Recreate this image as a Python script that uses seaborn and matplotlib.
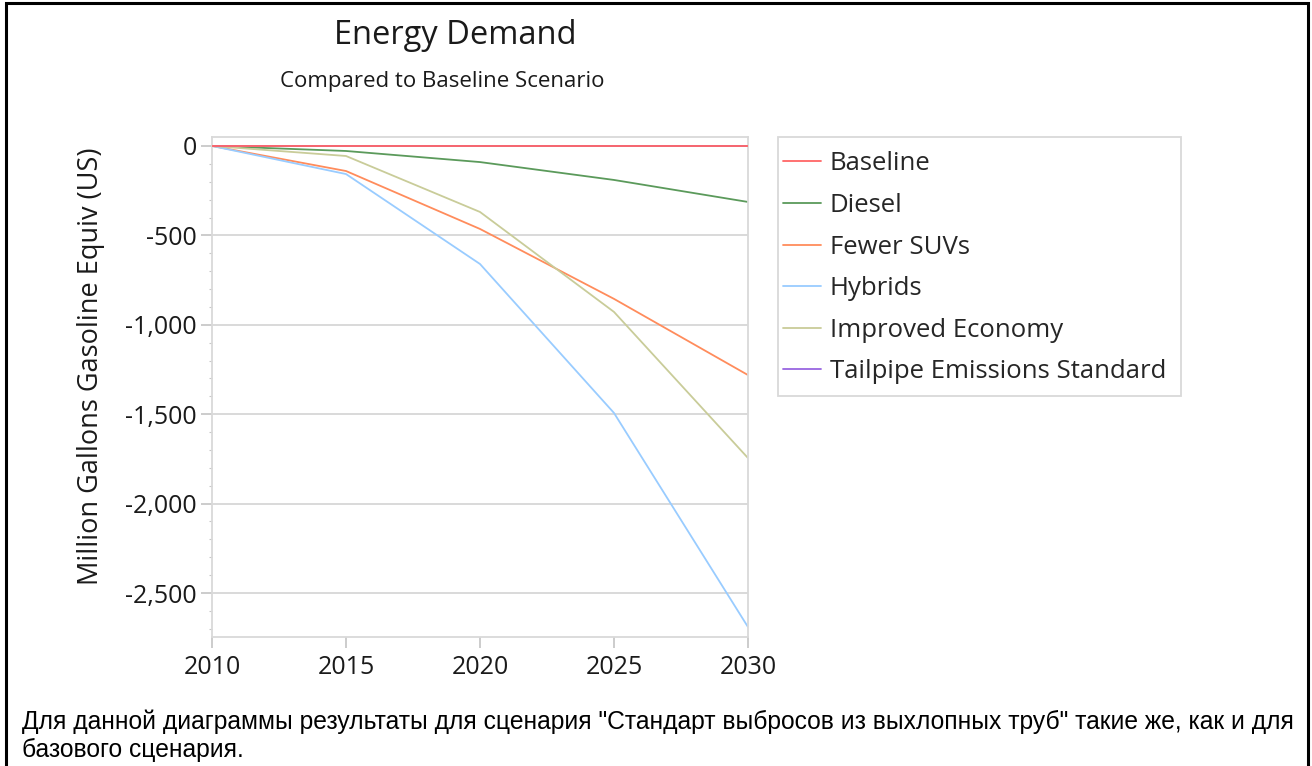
import matplotlib
matplotlib.use("Agg")
import matplotlib.pyplot as plt
import matplotlib.patches as mpatches
from matplotlib.ticker import MultipleLocator, FuncFormatter
import pandas as pd
import seaborn as sns

# Datos
years = [2010, 2015, 2020, 2025, 2030]
baseline = [0, 0, 0, 0, 0]
diesel = [0, -28, -90, -190, -313]
fewer_suvs = [0, -140, -464, -855, -1281]
hybrids = [0, -157, -660, -1493, -2690]
improved_economy = [0, -56, -369, -928, -1745]
tailpipe = [0, 0, 0, 0, 0]

scenarios = ["Baseline", "Diesel", "Fewer SUVs", "Hybrids",
             "Improved Economy", "Tailpipe Emissions Standard"]
colors = ["#ff6666", "#5b9a5b", "#ff8c5c", "#99ccff", "#c9cc99", "#9966e0"]
series = [baseline, diesel, fewer_suvs, hybrids, improved_economy, tailpipe]

rows = []
for name, vals in zip(scenarios, series):
    for y, v in zip(years, vals):
        rows.append({"Year": y, "Value": v, "Scenario": name})
df = pd.DataFrame(rows)

sns.set_style("white")
plt.rcParams["font.family"] = ["Open Sans", "DejaVu Sans"]

fig = plt.figure(figsize=(13.12, 7.66), dpi=100)
ax = fig.add_axes([0.1616, 0.1684, 0.4085, 0.6527])

sns.lineplot(data=df, x="Year", y="Value", hue="Scenario", hue_order=scenarios,
             palette=colors, linewidth=1.3, ax=ax, legend=False)

# la linea base debe quedar encima de Tailpipe (mismos valores)
ax.lines[0].set_zorder(5)

ax.set_xlim(2010, 2030)
ax.set_ylim(-2746, 50)
ax.set_xticks(years)
ax.yaxis.set_major_locator(MultipleLocator(500))
ax.yaxis.set_minor_locator(MultipleLocator(100))
ax.yaxis.set_major_formatter(FuncFormatter(lambda v, p: f"{v:,.0f}"))
ax.grid(axis="y", which="major", color="#d9d9d9", linewidth=1.4)
ax.grid(axis="x", visible=False)
ax.set_axisbelow(True)

for sp in ax.spines.values():
    sp.set_color("#d9d9d9")
    sp.set_linewidth(1.3)

ax.tick_params(axis="both", which="major", length=8, width=1.3, color="#c8c8c8",
               labelsize=18, labelcolor="#1a1a1a", pad=3)
ax.tick_params(axis="x", which="major", pad=5)
ax.tick_params(axis="y", which="minor", left=True, length=2.5, width=0.8, color="#c8c8c8")
ax.tick_params(axis="x", which="major", bottom=True)
ax.tick_params(axis="y", which="major", left=True)

ax.set_xlabel("")
ax.set_ylabel("Million Gallons Gasoline Equiv (US)", fontsize=19.5, color="#1a1a1a")
ax.yaxis.set_label_coords(-0.2, 0.542)

# leyenda (sin marco, el marco se dibuja aparte)
handles = [plt.Line2D([0], [0], color=c, linewidth=1.3) for c in colors]
leg = fig.legend(handles, scenarios, loc="upper left", bbox_to_anchor=(0.5854, 0.8225),
                 frameon=False, fontsize=18.5, handlelength=1.45, handletextpad=0.35,
                 labelspacing=0.645, borderpad=0.6, borderaxespad=0)
fig.add_artist(mpatches.Rectangle((0.593, 0.483), 0.3072, 0.338, transform=fig.transFigure,
                                  fill=False, edgecolor="#d9d9d9", linewidth=1.3))

# titulos
fig.text(0.347, 0.954, "Energy Demand", ha="center", va="center", fontsize=23.5, color="#1a1a1a")
fig.text(0.337, 0.893, "Compared to Baseline Scenario", ha="center", va="center",
         fontsize=16, color="#1a1a1a")

# nota al pie
fig.text(0.0168, 0.0574,
         "Для данной диаграммы результаты для сценария \"Стандарт выбросов из выхлопных труб\" такие же, как и для",
         ha="left", va="center", fontsize=17.7, family=["Liberation Sans", "DejaVu Sans"], color="black")
fig.text(0.0168, 0.021, "базового сценария.",
         ha="left", va="center", fontsize=17.7, family=["Liberation Sans", "DejaVu Sans"], color="black")

# marco negro
fig.add_artist(mpatches.Rectangle((0.0045, -0.01), 0.9925, 1.006, transform=fig.transFigure,
                                  fill=False, edgecolor="black", linewidth=2.2))

fig.savefig("out.png", dpi=100, facecolor="white")
